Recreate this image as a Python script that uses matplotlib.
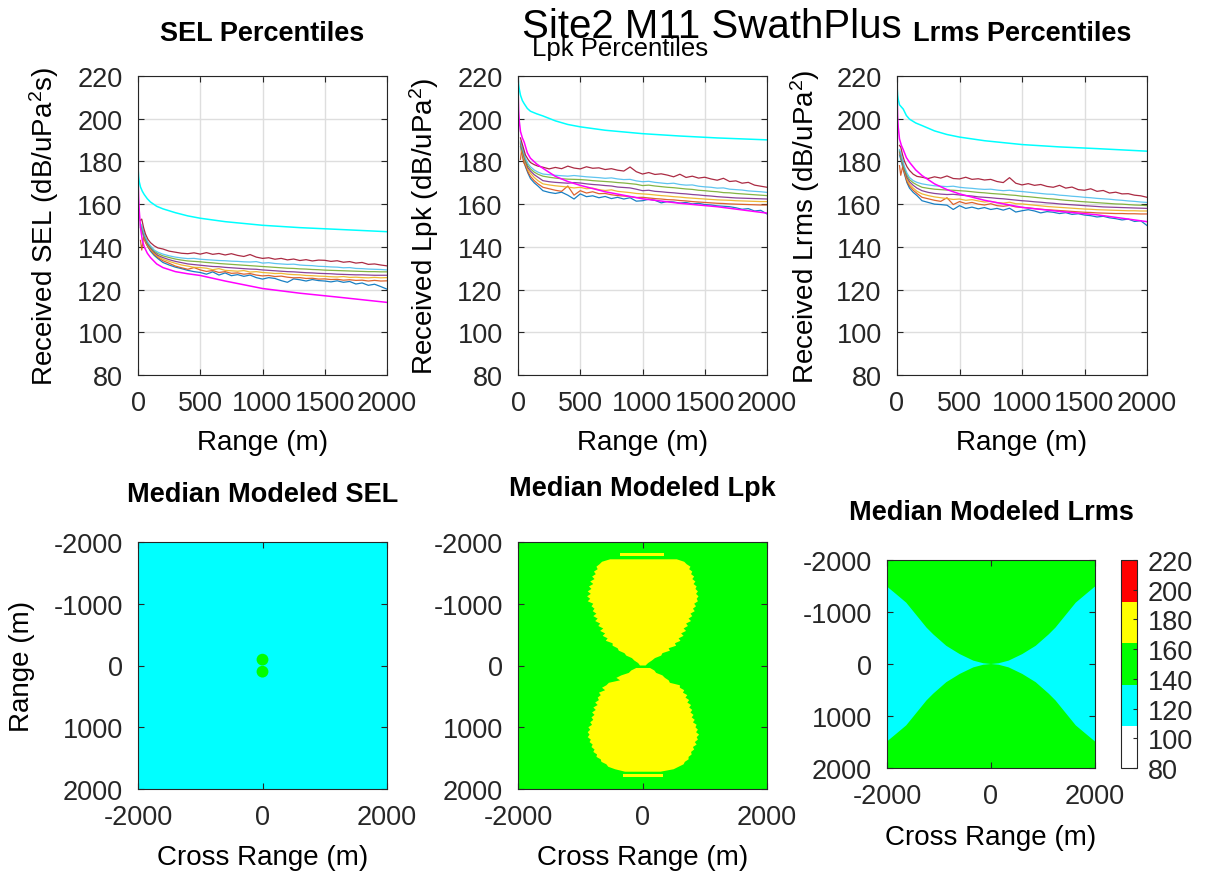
import numpy as np
import matplotlib
matplotlib.use("Agg")
import matplotlib.pyplot as plt
from matplotlib.colors import ListedColormap, Normalize
from matplotlib.patches import Circle
from matplotlib.cm import ScalarMappable

plt.rcParams['font.family'] = ['Liberation Sans', 'DejaVu Sans']
plt.rcParams['mathtext.default'] = 'regular'
plt.rcParams['axes.unicode_minus'] = False

# ── data: range axis for percentile curves (m) ────────────────────────────────
RANGE = [20, 30, 45, 60, 80, 100, 130, 160, 200, 250, 300, 350, 400, 450, 500,
         550, 600, 650, 700, 750, 800, 850, 900, 950, 1000, 1050, 1100, 1150,
         1200, 1250, 1300, 1350, 1400, 1450, 1500, 1550, 1600, 1650, 1700,
         1750, 1800, 1850, 1900, 1950, 2000]
MODEL_RANGE = [1, 5, 10, 20, 35, 50, 75, 100, 150, 200, 300, 400, 500, 700,
               1000, 1300, 1600, 2000]

# SEL percentiles (lowest -> highest)
SEL_P1 = [149.0, 147.5, 145.0, 142.5, 140.0, 138.0, 136.0, 134.5, 132.7, 131.5, 130.5, 129.8, 129.0, 128.4, 128.0,
          127.2, 128.3, 126.8, 127.8, 126.5, 127.0, 126.2, 126.8, 125.6, 124.9, 125.6, 125.2, 124.2, 123.4, 125.0,
          124.6, 124.0, 124.7, 124.2, 124.0, 123.6, 124.1, 123.4, 123.8, 122.6, 123.1, 122.0, 122.5, 121.4, 120.2]
SEL_P2 = [143.0, 138.5, 144.5, 142.0, 140.0, 138.5, 136.5, 135.0, 133.5, 132.3, 131.0, 130.2, 129.5, 130.3, 129.2,
          128.5, 128.9, 128.0, 128.4, 127.6, 127.8, 127.2, 127.5, 126.8, 126.4, 126.6, 126.1, 126.3, 125.8, 125.5,
          125.6, 125.2, 125.3, 124.9, 125.0, 124.7, 124.8, 124.4, 124.6, 124.3, 124.4, 124.0, 124.3, 124.0, 124.1]
SEL_P3 = [149.5, 148.0, 145.5, 143.0, 140.5, 139.0, 137.0, 135.5, 134.2, 133.2, 132.3, 131.5, 131.0, 130.4, 130.3,
          130.0, 129.3, 129.8, 129.0, 128.8, 128.6, 128.9, 128.2, 128.4, 128.0, 127.8, 127.5, 127.6, 127.2, 127.0,
          126.9, 126.6, 126.5, 126.3, 126.2, 126.0, 125.9, 126.1, 125.7, 125.8, 125.6, 125.5, 125.7, 125.5, 125.6]
SEL_P4 = [150.0, 148.5, 146.0, 143.5, 141.0, 139.5, 137.5, 136.0, 135.0, 134.0, 133.2, 132.6, 132.0, 131.7, 131.4,
          131.1, 130.8, 130.7, 130.4, 130.2, 130.0, 129.8, 129.6, 129.5, 129.2, 129.0, 128.8, 128.6, 128.4, 128.3,
          128.1, 127.9, 127.8, 127.6, 127.5, 127.4, 127.2, 127.1, 127.0, 126.9, 126.9, 126.8, 126.7, 126.7, 126.7]
SEL_P5 = [150.5, 149.0, 146.5, 144.0, 141.5, 140.0, 138.0, 136.8, 135.8, 135.0, 134.3, 133.8, 133.4, 133.2, 133.0,
          132.7, 132.5, 132.2, 132.0, 131.8, 131.6, 131.4, 131.2, 131.0, 130.8, 130.6, 130.4, 130.2, 130.0, 129.9,
          129.7, 129.6, 129.4, 129.3, 129.1, 129.0, 128.9, 128.8, 128.7, 128.6, 128.5, 128.4, 128.4, 128.3, 128.3]
SEL_P6 = [151.0, 150.0, 147.0, 144.5, 142.0, 140.5, 138.5, 137.5, 136.6, 135.8, 135.2, 134.8, 134.5, 134.6, 134.2,
          134.0, 133.8, 133.6, 133.5, 133.3, 133.2, 133.0, 132.9, 133.1, 132.4, 132.6, 132.2, 132.0, 131.8, 131.9,
          131.5, 131.3, 131.2, 130.9, 130.8, 130.6, 130.5, 130.2, 130.3, 129.9, 129.8, 129.6, 129.5, 129.4, 129.2]
SEL_P7 = [152.5, 153.0, 149.0, 146.0, 143.5, 142.0, 140.5, 139.5, 139.0, 138.0, 137.5, 137.0, 136.8, 137.2, 136.6,
          137.3, 136.5, 136.9, 136.2, 136.8, 136.0, 135.5, 136.4, 135.2, 134.6, 134.9, 134.2, 134.6, 133.9, 134.3,
          133.6, 134.0, 133.4, 133.8, 133.7, 133.2, 133.5, 132.8, 133.1, 132.4, 132.7, 131.8, 132.0, 131.5, 131.1]
SEL_UPPER = [176.6, 173.0, 170.5, 168.0, 166.0, 164.5, 162.5, 161.0, 159.0, 157.8, 156.0, 154.5, 153.4, 151.8,
             150.1, 149.0, 148.2, 147.1]
SEL_MODEL = [171.0, 163.0, 157.0, 149.0, 143.0, 140.0, 137.0, 135.0, 132.0, 130.3, 128.4, 127.4, 126.6, 124.0,
             120.5, 118.3, 116.5, 114.0]

# Lpk percentiles
LPK_P1 = [187.0, 184.0, 180.5, 177.5, 174.5, 172.0, 170.0, 168.5, 166.3, 165.5, 165.0, 165.6, 164.2, 162.4, 164.8,
          163.5, 163.9, 163.0, 163.6, 162.6, 163.2, 162.4, 163.0, 161.4, 161.6, 162.3, 161.8, 160.6, 161.2, 161.0,
          160.5, 160.8, 160.1, 160.4, 159.8, 159.6, 159.2, 159.0, 158.8, 158.3, 157.6, 157.9, 156.8, 157.1, 155.4]
LPK_P2 = [181.0, 186.0, 179.5, 178.0, 175.0, 173.0, 171.0, 169.5, 167.9, 167.2, 166.5, 166.0, 168.5, 164.2, 166.3,
          165.2, 165.8, 164.9, 165.0, 164.4, 164.0, 163.8, 163.5, 163.1, 163.2, 162.9, 162.6, 162.4, 162.1, 162.0,
          161.7, 161.5, 161.2, 161.0, 160.8, 160.6, 160.4, 160.3, 160.1, 160.0, 159.9, 159.8, 159.7, 159.6, 159.6]
LPK_P3 = [188.0, 185.0, 182.0, 179.0, 176.0, 174.5, 172.5, 171.0, 169.5, 169.0, 168.6, 168.3, 168.0, 167.6, 167.9,
          167.2, 167.5, 166.8, 166.4, 166.7, 166.0, 165.7, 165.4, 165.0, 164.8, 164.6, 164.3, 164.0, 163.8, 163.5,
          163.3, 163.0, 162.8, 162.6, 162.4, 162.2, 162.0, 161.9, 161.8, 161.6, 161.5, 161.4, 161.3, 161.2, 161.2]
LPK_P4 = [188.5, 186.0, 183.0, 180.0, 177.0, 175.5, 173.8, 172.6, 171.0, 170.5, 170.2, 170.0, 169.8, 170.1, 169.9,
          169.5, 169.2, 169.0, 168.7, 168.5, 168.0, 167.8, 167.6, 167.0, 166.3, 166.5, 166.0, 165.8, 165.5, 165.3,
          165.0, 164.8, 164.5, 164.3, 164.0, 163.8, 163.5, 163.3, 163.1, 162.9, 162.8, 162.7, 162.6, 162.5, 162.4]
LPK_P5 = [189.0, 186.5, 183.5, 180.5, 178.0, 176.5, 175.0, 174.0, 173.1, 172.6, 172.2, 171.9, 171.7, 171.6, 171.5,
          171.3, 171.0, 170.8, 170.6, 170.4, 170.1, 169.9, 169.6, 169.3, 168.7, 168.9, 168.5, 168.2, 167.9, 167.7,
          167.4, 167.1, 166.9, 166.5, 166.3, 166.0, 165.8, 165.4, 165.3, 165.0, 164.8, 164.6, 164.4, 164.2, 164.0]
LPK_P6 = [189.5, 187.5, 184.5, 181.5, 179.0, 177.5, 176.0, 175.0, 174.1, 173.8, 173.5, 173.3, 173.1, 173.4, 173.1,
          172.8, 172.6, 172.4, 172.1, 172.3, 171.8, 171.5, 171.6, 170.9, 170.5, 170.7, 170.2, 169.9, 169.6, 169.8,
          169.2, 168.9, 169.0, 168.4, 168.1, 167.9, 167.5, 167.6, 167.0, 166.8, 166.6, 166.2, 166.0, 165.8, 165.5]
LPK_P7 = [191.0, 189.0, 186.0, 183.0, 181.0, 179.5, 178.5, 177.8, 177.3, 176.5, 177.2, 176.6, 177.8, 176.9, 176.5,
          177.5, 176.8, 177.0, 176.2, 176.6, 175.9, 175.5, 177.4, 175.2, 174.1, 174.8, 173.9, 174.2, 173.6, 172.8,
          174.0, 172.5, 173.1, 172.2, 172.6, 171.8, 171.2, 172.1, 170.6, 170.9, 169.8, 170.2, 168.9, 168.4, 167.9]
LPK_UPPER = [218.8, 216.0, 214.0, 211.0, 208.5, 207.0, 204.8, 203.5, 202.3, 201.3, 199.0, 197.3, 196.2, 194.6,
             193.0, 191.9, 191.0, 190.1]
LPK_MODEL = [212.5, 204.0, 199.0, 194.0, 191.0, 189.0, 184.0, 181.5, 178.8, 176.8, 173.0, 170.6, 168.8, 165.8,
             162.5, 160.4, 158.8, 155.8]

# Lrms percentiles
LRMS_P1 = [183.0, 181.0, 177.5, 174.0, 170.0, 167.5, 165.5, 164.0, 161.6, 160.8, 160.0, 159.8, 159.5, 157.5, 159.3,
           158.0, 158.6, 157.8, 158.4, 157.5, 158.0, 157.2, 158.1, 156.3, 156.9, 157.4, 156.8, 155.9, 156.5, 156.2,
           155.6, 156.0, 155.2, 155.5, 154.9, 154.6, 154.0, 154.3, 153.6, 153.2, 152.6, 153.0, 151.9, 152.2, 150.0]
LRMS_P2 = [178.0, 173.5, 177.5, 174.5, 170.5, 168.5, 166.5, 165.0, 163.2, 162.5, 161.8, 161.3, 163.0, 159.8, 161.2,
           160.3, 160.8, 160.0, 159.6, 160.2, 159.3, 159.0, 159.4, 158.7, 158.5, 158.2, 157.9, 157.6, 157.4, 157.2,
           157.0, 156.8, 156.6, 156.4, 156.2, 156.1, 155.9, 155.8, 155.7, 155.6, 155.6, 155.5, 155.5, 155.4, 155.4]
LRMS_P3 = [184.0, 182.0, 178.5, 175.5, 171.5, 169.5, 167.5, 166.0, 164.8, 164.0, 163.4, 163.0, 162.6, 162.2, 162.4,
           161.8, 162.1, 161.5, 161.0, 161.3, 160.7, 160.5, 160.9, 160.2, 160.1, 159.8, 159.5, 159.2, 158.9, 158.7,
           158.5, 158.3, 158.1, 157.9, 157.7, 157.6, 157.4, 157.3, 157.2, 157.1, 157.0, 156.9, 156.9, 156.8, 156.8]
LRMS_P4 = [184.5, 182.5, 179.0, 176.0, 172.5, 170.5, 168.8, 167.5, 166.3, 165.5, 165.0, 164.7, 164.5, 164.6, 164.3,
           164.0, 163.8, 163.4, 163.2, 163.0, 162.7, 162.5, 162.2, 161.9, 161.6, 161.4, 161.1, 160.9, 160.6, 160.4,
           160.1, 159.9, 159.7, 159.5, 159.3, 159.1, 158.9, 158.7, 158.6, 158.5, 158.4, 158.3, 158.2, 158.1, 158.0]
LRMS_P5 = [185.0, 183.0, 179.5, 176.5, 173.5, 171.5, 170.0, 169.0, 167.9, 167.4, 167.0, 166.8, 166.6, 166.5, 166.3,
           166.1, 165.8, 165.5, 165.3, 165.0, 164.8, 164.6, 164.3, 164.1, 163.7, 163.5, 163.2, 162.9, 162.6, 162.4,
           162.1, 161.8, 161.6, 161.3, 161.1, 160.9, 160.7, 160.5, 160.3, 160.1, 160.0, 159.8, 159.6, 159.5, 159.3]
LRMS_P6 = [185.5, 184.0, 180.5, 177.5, 174.5, 172.5, 171.0, 170.2, 169.5, 169.0, 168.6, 168.4, 168.2, 168.4, 167.9,
           167.6, 167.4, 167.1, 166.9, 167.0, 166.6, 166.3, 166.5, 166.1, 165.9, 165.6, 165.3, 165.0, 164.7, 164.6,
           164.2, 164.0, 163.7, 163.5, 163.2, 163.0, 162.7, 162.5, 162.3, 162.0, 161.8, 161.5, 161.3, 161.0, 160.8]
LRMS_P7 = [187.5, 186.7, 183.0, 180.0, 177.5, 175.8, 174.0, 173.0, 172.6, 172.0, 172.8, 172.2, 173.2, 172.0, 171.8,
           172.6, 171.6, 171.9, 171.3, 171.6, 170.6, 170.1, 172.4, 169.8, 169.0, 169.6, 168.8, 169.2, 168.3, 167.9,
           168.8, 167.5, 168.0, 166.8, 166.5, 167.2, 166.0, 166.4, 165.2, 165.6, 164.8, 164.9, 164.2, 163.9, 163.2]
LRMS_UPPER = [214.8, 211.0, 209.0, 206.5, 205.5, 204.5, 201.5, 199.8, 198.0, 196.8, 194.3, 192.6, 191.4, 189.7,
              187.9, 186.8, 186.0, 184.8]
LRMS_MODEL = [211.0, 201.0, 196.0, 190.5, 187.5, 185.5, 181.8, 179.6, 176.0, 173.4, 169.5, 166.8, 164.8, 161.8,
              158.5, 156.6, 155.0, 151.8]

# ── data: median modeled maps (dB levels and region outlines in m) ────────────
LEVELS = [80, 220]
MAP_COLORS = ['white', 'cyan', '#00ff00', 'yellow', 'red']
SEL_BACKGROUND = 125
SEL_SPOT_LEVEL = 142
SEL_SPOT_RANGE = [-95, 100]
SEL_SPOT_RADIUS = 95

LPK_BACKGROUND = 150
LPK_LOBE_LEVEL = 175
LPK_UP_RANGE = [-1720, -1680, -1640, -1600, -1560, -1520, -1480, -1440, -1400, -1360, -1320, -1280, -1240, -1200,
                -1160, -1120, -1080, -1040, -1000, -960, -920, -880, -840, -800, -760, -720, -680, -640, -600,
                -560, -520, -480, -440, -400, -360, -320, -280, -240, -200, -160, -120, -80, -40, 0]
LPK_UP_LEFT = [-520, -650, -690, -740, -720, -780, -750, -810, -770, -840, -790, -860, -820, -880, -830, -890,
               -840, -880, -790, -820, -770, -800, -740, -790, -720, -760, -680, -710, -630, -680, -600, -640,
               -560, -590, -480, -480, -400, -380, -290, -260, -170, -130, -70, -40]
LPK_UP_RIGHT = [550, 670, 710, 770, 750, 800, 780, 830, 800, 850, 820, 870, 850, 890, 860, 900, 870, 890, 830,
                860, 810, 840, 770, 800, 740, 780, 700, 730, 660, 700, 620, 660, 580, 610, 520, 540, 420, 440,
                320, 300, 200, 150, 90, 50]
LPK_LOW_RANGE = [40, 80, 120, 160, 200, 240, 280, 320, 360, 400, 440, 480, 520, 560, 600, 640, 680, 720, 760,
                 800, 840, 880, 920, 960, 1000, 1040, 1080, 1120, 1160, 1200, 1240, 1280, 1320, 1360, 1400, 1440,
                 1480, 1520, 1560, 1600, 1640, 1680, 1720]
LPK_LOW_LEFT = [-100, -180, -220, -340, -420, -360, -540, -580, -650, -600, -700, -670, -720, -700, -760, -720,
                -790, -750, -810, -770, -820, -790, -840, -810, -870, -840, -880, -850, -880, -830, -850, -800,
                -820, -770, -790, -730, -740, -670, -660, -580, -550, -440, -280]
LPK_LOW_RIGHT = [120, 190, 220, 320, 360, 420, 440, 600, 600, 670, 650, 720, 690, 750, 720, 780, 750, 800, 770,
                 820, 790, 840, 810, 870, 850, 890, 860, 910, 870, 890, 840, 870, 810, 830, 780, 790, 740, 740,
                 680, 660, 580, 500, 290]
LPK_STRIPE_RANGE = [(-1815, -1770), (1765, 1810)]
LPK_STRIPE_CROSS = [(-360, 340), (-310, 335)]

LRMS_BACKGROUND = 150
LRMS_WEDGE_LEVEL = 125
LRMS_CROSS = [2000, 1820, 1630, 1500, 1370, 1240, 1110, 860, 600, 340, 150, 0]
LRMS_EDGE = [1490, 1340, 1180, 1020, 860, 700, 570, 350, 190, 65, 15, 0]

PCT_COLORS = ['#0072BD', '#D95319', '#EDB120', '#7E2F8E', '#77AC30', '#4DBEEE', '#A2142F']
TICK = 19.5
LABEL = 20
TITLE = 19.5

cmap = ListedColormap(MAP_COLORS)
norm = Normalize(*LEVELS)

fig = plt.figure(figsize=(12.09, 8.78), dpi=100)


def px(l, t, r, b):
    W, H = 1209, 878
    return [l / W, 1 - b / H, (r - l) / W, (b - t) / H]


def style(ax, grid):
    for s in ax.spines.values():
        s.set_color('#262626')
        s.set_linewidth(0.8)
    ax.tick_params(direction='in', length=4, labelsize=TICK, top=True, right=True,
                   color='#262626', labelcolor='#262626', pad=11)
    if grid:
        ax.grid(True, color='#dedede', lw=1)
        ax.set_axisbelow(True)


# ── top row: percentile curves ────────────────────────────────────────────────
top = [
    ("SEL Percentiles", "Received SEL (dB/uPa$^2$s)", [SEL_P1, SEL_P2, SEL_P3, SEL_P4, SEL_P5, SEL_P6, SEL_P7],
     SEL_UPPER, SEL_MODEL, px(138, 77, 387, 376), 0.5, 1.117, True, -0.377),
    ("Lpk Percentiles", "Received Lpk (dB/uPa$^2$)", [LPK_P1, LPK_P2, LPK_P3, LPK_P4, LPK_P5, LPK_P6, LPK_P7],
     LPK_UPPER, LPK_MODEL, px(518, 77, 767, 376), 0.41, 1.067, False, -0.377),
    ("Lrms Percentiles", "Received Lrms (dB/uPa$^2$)", [LRMS_P1, LRMS_P2, LRMS_P3, LRMS_P4, LRMS_P5, LRMS_P6, LRMS_P7],
     LRMS_UPPER, LRMS_MODEL, px(897, 77, 1147, 376), 0.5, 1.117, True, -0.368),
]
for title, ylab, pcts, upper, model, pos, tx, ty, bold, ylx in top:
    ax = fig.add_axes(pos)
    for vals, c in zip(pcts, PCT_COLORS):
        ax.plot(RANGE, vals, color=c, lw=0.9, alpha=0.9)
    ax.plot(MODEL_RANGE, upper, color='cyan', lw=1.1)
    ax.plot(MODEL_RANGE, model, color='magenta', lw=1.1)
    ax.set_xlim(0, 2000)
    ax.set_ylim(80, 220)
    ax.set_xticks([0, 500, 1000, 1500, 2000])
    ax.set_yticks(range(80, 221, 20))
    style(ax, True)
    ax.set_title(title, x=tx, y=ty, va='center', fontsize=TITLE if bold else 18.5,
                 fontweight='bold' if bold else 'normal')
    ax.set_xlabel("Range (m)", fontsize=LABEL)
    ax.xaxis.set_label_coords(0.5, -0.224)
    ax.xaxis.label.set_va('center')
    ax.set_ylabel(ylab, fontsize=LABEL)
    ax.yaxis.set_label_coords(ylx, 0.5)
    ax.yaxis.label.set_va('center')

fig.text(712 / 1209, 1 - 27 / 878, "Site2 M11 SwathPlus", ha='center', va='center', fontsize=29)


# ── bottom row: modeled maps ──────────────────────────────────────────────────
def level_color(v):
    return cmap(norm(v))


def map_axes(pos, background, title, ty):
    ax = fig.add_axes(pos)
    ax.imshow([[background]], cmap=cmap, norm=norm, extent=(-2000, 2000, 2000, -2000),
              aspect='auto', interpolation='nearest')
    ax.set_xlim(-2000, 2000)
    ax.set_ylim(2000, -2000)
    ax.set_xticks([-2000, 0, 2000])
    ax.set_yticks([-2000, -1000, 0, 1000, 2000])
    style(ax, False)
    ax.set_title(title, y=ty, va='center', fontsize=TITLE, fontweight='bold')
    ax.set_xlabel("Cross Range (m)", fontsize=LABEL)
    ax.xaxis.label.set_va('center')
    return ax


ax = map_axes(px(138, 543, 387, 790), SEL_BACKGROUND, "Median Modeled SEL", 1.162)
for r in SEL_SPOT_RANGE:
    ax.add_patch(Circle((0, r), SEL_SPOT_RADIUS, color=level_color(SEL_SPOT_LEVEL), lw=0))
ax.xaxis.set_label_coords(0.5, -0.275)
ax.set_ylabel("Range (m)", fontsize=LABEL)
ax.yaxis.set_label_coords(-0.466, 0.5)
ax.yaxis.label.set_va('center')

ax = map_axes(px(518, 543, 767, 790), LPK_BACKGROUND, "Median Modeled Lpk", 1.186)
ax.fill(LPK_UP_RIGHT + LPK_UP_LEFT[::-1], LPK_UP_RANGE + LPK_UP_RANGE[::-1],
        color=level_color(LPK_LOBE_LEVEL), lw=0)
ax.fill(LPK_LOW_RIGHT + LPK_LOW_LEFT[::-1], LPK_LOW_RANGE + LPK_LOW_RANGE[::-1],
        color=level_color(LPK_LOBE_LEVEL), lw=0)
for (r0, r1), (c0, c1) in zip(LPK_STRIPE_RANGE, LPK_STRIPE_CROSS):
    ax.fill([c0, c1, c1, c0], [r0, r0, r1, r1], color=level_color(LPK_LOBE_LEVEL), lw=0)
ax.xaxis.set_label_coords(0.5, -0.275)

ax = map_axes(px(887, 561, 1095, 769), LRMS_BACKGROUND, "Median Modeled Lrms", 1.192)
edge = np.array(LRMS_EDGE)
for side in (-1, 1):
    cx = side * np.array(LRMS_CROSS)
    ax.fill(np.concatenate([cx, cx[::-1]]), np.concatenate([-edge, edge[::-1]]),
            color=level_color(LRMS_WEDGE_LEVEL), lw=0)
ax.xaxis.set_label_coords(0.5, -0.332)

cax = fig.add_axes(px(1121, 561, 1137, 769))
cb = fig.colorbar(ScalarMappable(norm=norm, cmap=cmap), cax=cax, ticks=range(80, 221, 20))
cb.outline.set_linewidth(0.8)
cb.outline.set_edgecolor('#262626')
cax.tick_params(direction='in', length=3, labelsize=TICK, color='#262626', labelcolor='#262626', pad=8)

fig.savefig("out.png", dpi=100)
